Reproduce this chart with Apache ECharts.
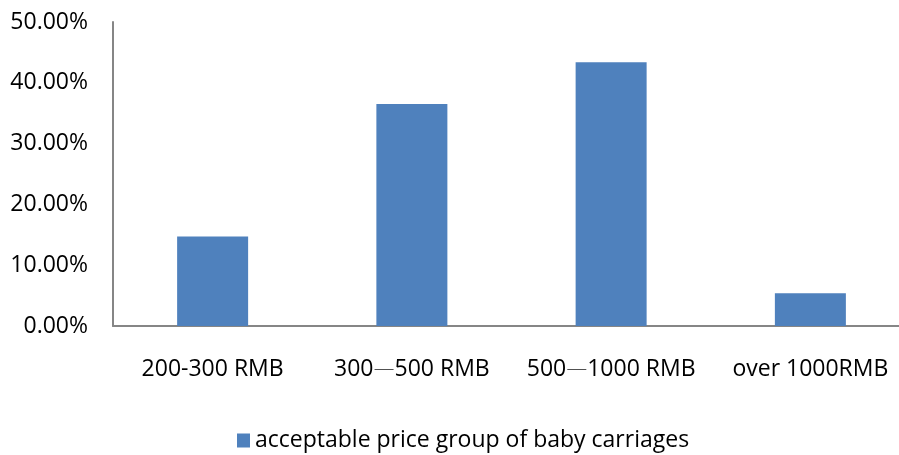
<!DOCTYPE html>
<html>
<head>
<meta charset="utf-8">
<script src="https://cdn.jsdelivr.net/npm/echarts@6/dist/echarts.min.js"></script>
<style>
  html, body { margin: 0; padding: 0; background: #fff; }
  #chart { width: 899px; height: 455px; }
</style>
</head>
<body>
<div id="chart"></div>
<script>
// Price bands and the share of respondents accepting each
const categories = ['200-300 RMB', '300一500 RMB', '500一1000 RMB', 'over 1000RMB'];
const shares = [0.147, 0.365, 0.434, 0.054];
const seriesName = 'acceptable price group of baby carriages';

const FONT = '"Open Sans", "Noto Sans CJK SC", sans-serif';
const chart = echarts.init(document.getElementById('chart'), null, { renderer: 'canvas' });

// Every category label goes through rich text; the CJK "一" separator uses a thin weight
function categoryLabel(value) {
  return value.split('一').map(s => '{t|' + s + '}').join('{d|一}');
}

chart.setOption({
  animation: false,
  backgroundColor: '#ffffff',
  textStyle: { fontFamily: FONT },
  // plot area runs past the right edge, so the category axis is clipped there
  grid: {
    left: 113, top: 22, width: 797, bottom: 129,
    containLabel: false, outerBoundsMode: 'none'
  },
  legend: {
    data: [seriesName],
    left: 232,
    top: 424,
    icon: 'rect',
    itemWidth: 13,
    itemHeight: 14,
    itemGap: 8,
    textStyle: { fontFamily: FONT, fontSize: 23, color: '#000' }
  },
  xAxis: {
    type: 'category',
    data: categories,
    axisLine: { show: true, lineStyle: { color: '#868686', width: 2 } },
    axisTick: { show: false },
    axisLabel: {
      fontFamily: FONT, fontSize: 23, color: '#000', margin: 28, interval: 0,
      formatter: categoryLabel,
      rich: {
        t: { fontFamily: FONT, fontSize: 23, color: '#000', lineHeight: 30 },
        d: { fontFamily: '"Noto Sans CJK SC"', fontWeight: 100, fontSize: 21, color: '#000', lineHeight: 30 }
      }
    },
    splitLine: { show: false }
  },
  yAxis: {
    type: 'value',
    min: 0,
    max: 0.5,
    interval: 0.1,
    axisLine: { show: true, lineStyle: { color: '#868686', width: 2 } },
    axisTick: { show: false },
    splitLine: { show: false },
    axisLabel: {
      fontFamily: FONT, fontSize: 23, color: '#000', margin: 25,
      formatter: v => (v * 100).toFixed(2) + '%'
    }
  },
  series: [{
    name: seriesName,
    type: 'bar',
    data: shares,
    barWidth: 71,
    itemStyle: { color: '#4F81BD' }
  }]
});
</script>
</body>
</html>
